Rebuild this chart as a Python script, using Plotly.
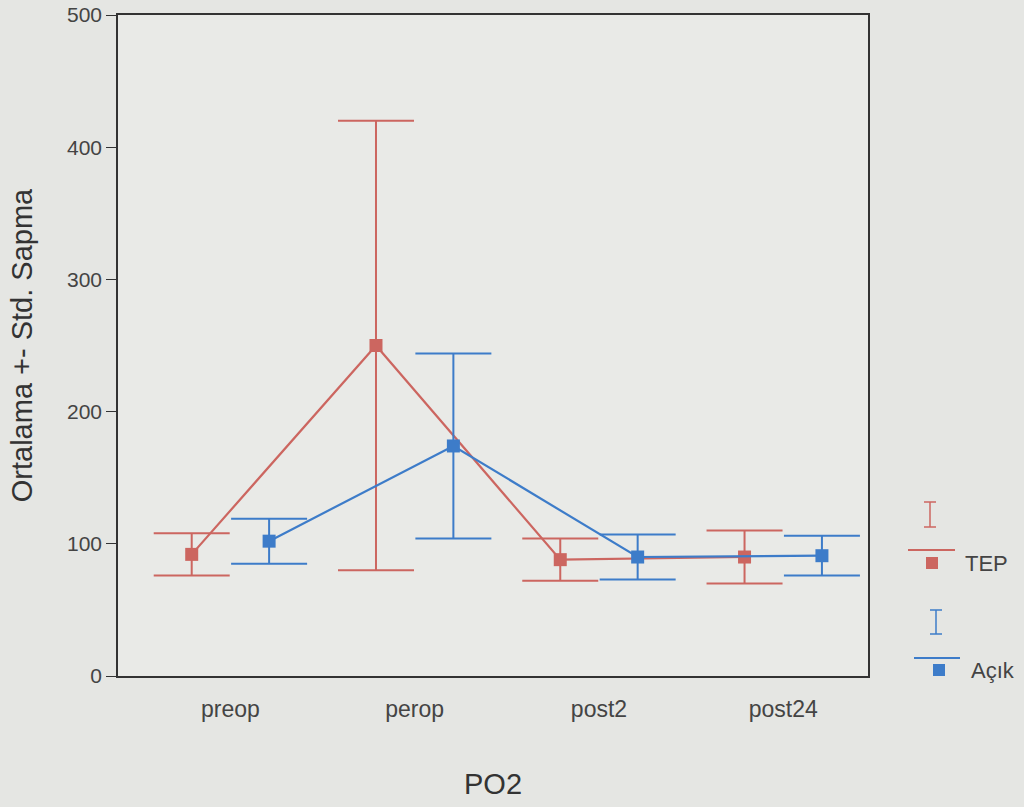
import plotly.graph_objects as go

categories = ["preop", "perop", "post2", "post24"]
tep_mean = [92, 250, 88, 90]
tep_sd = [16, 170, 16, 20]
acik_mean = [102, 174, 90, 91]
acik_sd = [17, 70, 17, 15]
y_ticks = [0, 100, 200, 300, 400, 500]

RED = "#cc6660"
BLUE = "#3d7cc9"
BG = "#e5e6e3"
FONT = "Liberation Sans, Arial"

idx = list(range(len(categories)))
off = 0.21

fig = go.Figure()
for name, means, sds, color, d in [("TEP", tep_mean, tep_sd, RED, -off),
                                    ("Açık", acik_mean, acik_sd, BLUE, off)]:
    fig.add_trace(go.Scatter(
        x=[i + d for i in idx], y=means, name=name, mode="lines+markers",
        line=dict(color=color, width=2.2),
        marker=dict(symbol="square", size=13, color=color),
        error_y=dict(type="data", array=sds, visible=True, color=color,
                     thickness=2, width=38),
        showlegend=False,
    ))

L, R, T, B = 118, 868, 15, 676
W, H = 1024, 807
def px(x):
    return (x - L) / (R - L)
def py(y):
    return (B - y) / (B - T)

shapes = []
def line(x0, y0, x1, y1, c, w=2):
    shapes.append(dict(type="line", xref="paper", yref="paper",
                       x0=px(x0), y0=py(y0), x1=px(x1), y1=py(y1),
                       line=dict(color=c, width=w)))
def rect(x0, y0, x1, y1, c):
    shapes.append(dict(type="rect", xref="paper", yref="paper",
                       x0=px(x0), y0=py(y0), x1=px(x1), y1=py(y1),
                       line=dict(width=0), fillcolor=c))

# legend TEP
line(930, 502, 930, 527, RED, 1.5)
line(924, 502, 936, 502, RED, 1.5)
line(924, 527, 936, 527, RED, 1.5)
line(908, 550, 955, 550, RED, 2)
rect(926, 557, 938, 569, RED)
# legend Açık
line(936, 610, 936, 634, BLUE, 1.5)
line(930, 610, 942, 610, BLUE, 1.5)
line(930, 634, 942, 634, BLUE, 1.5)
line(914, 658, 960, 658, BLUE, 2)
rect(933, 664, 945, 676, BLUE)

annotations = [
    dict(text="TEP", xref="paper", yref="paper", x=px(963), y=py(563),
         xanchor="left", yanchor="middle", showarrow=False,
         font=dict(size=22, color="#444444", family=FONT)),
    dict(text="Açık", xref="paper", yref="paper", x=px(969), y=py(670),
         xanchor="left", yanchor="middle", showarrow=False,
         font=dict(size=22, color="#444444", family=FONT)),
]

fig.update_layout(
    width=W, height=H,
    margin=dict(l=L, r=W - R, t=T, b=H - B),
    paper_bgcolor=BG, plot_bgcolor="#e9eae7",
    font=dict(family=FONT, color="#444444"),
    shapes=shapes, annotations=annotations,
    xaxis=dict(range=[-0.61, 3.46], tickvals=idx, ticktext=categories,
               showgrid=False, zeroline=False, showline=True, mirror=True,
               linecolor="#333333", linewidth=1.5, ticks="",
               ticklabelstandoff=12, automargin=False,
               tickfont=dict(size=23, color="#444444"),
               title=dict(text="PO2", font=dict(size=29, color="#333333"), standoff=52)),
    yaxis=dict(range=[0, 500], tickvals=y_ticks, showgrid=False, zeroline=False,
               showline=True, mirror=True, linecolor="#333333", linewidth=1.5,
               ticks="outside", ticklen=10, tickcolor="#333333", automargin=False,
               tickfont=dict(size=21, color="#444444"),
               title=dict(text="Ortalama +- Std. Sapma", font=dict(size=29, color="#333333"),
                          standoff=26)),
)

fig.write_html("out.html")
